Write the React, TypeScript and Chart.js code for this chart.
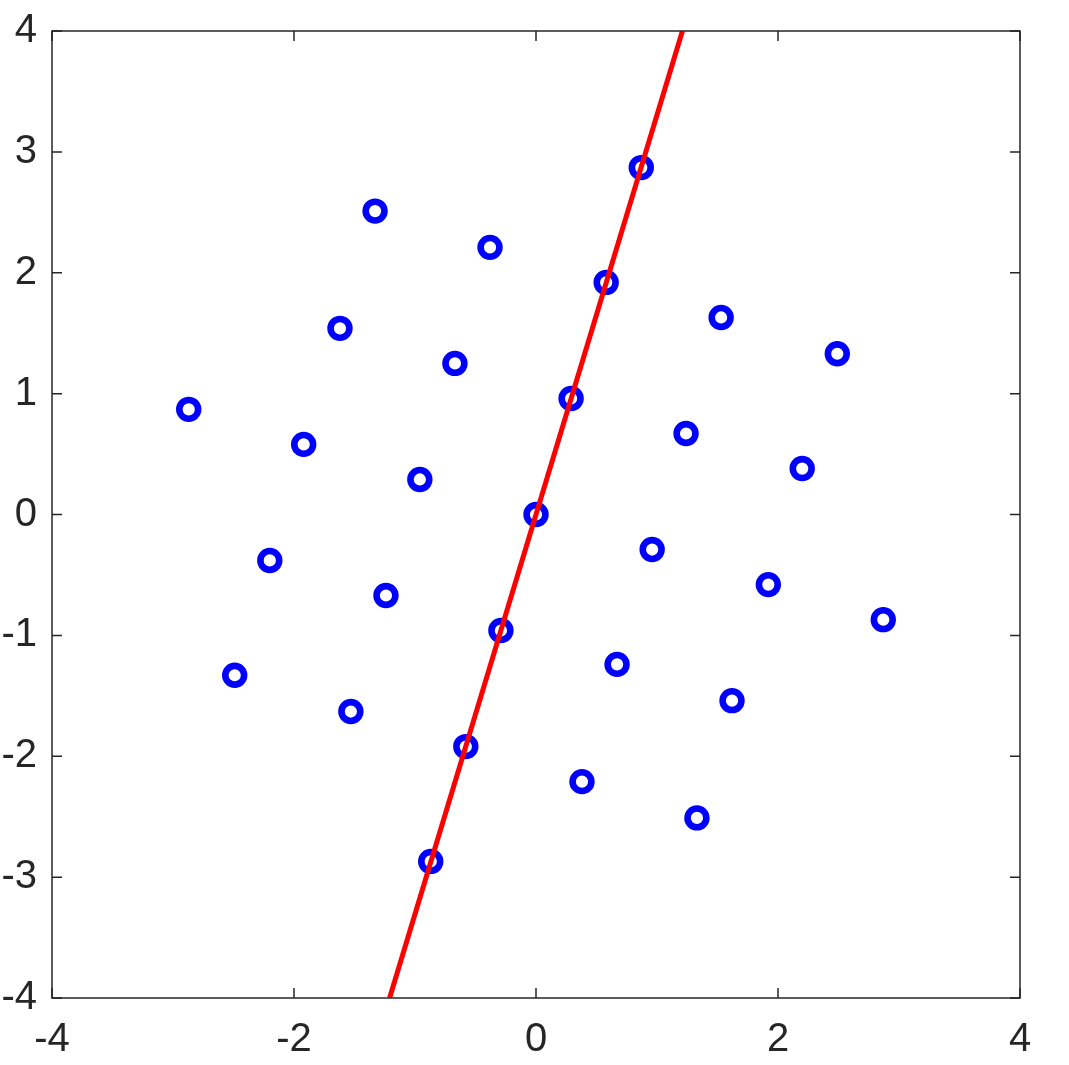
import { useEffect, useRef } from "react";
import { Chart, registerables } from "chart.js";

Chart.register(...registerables);

const xTickValues = [-4, -2, 0, 2, 4];
const yTickValues = [-4, -3, -2, -1, 0, 1, 2, 3, 4];

const pointX = [
  -2.87, -1.33, -0.38, 0.87, -1.62, -0.67, 0.58, 1.53, 2.49, -1.92, -0.96, 0.29, 1.24, 2.2, -2.2,
  -1.24, 0, 0.96, 1.92, 2.87, -2.49, -1.53, -0.29, 0.67, 1.62, -0.58, 0.38, 1.33, -0.87,
];
const pointY = [
  0.87, 2.51, 2.21, 2.87, 1.54, 1.25, 1.92, 1.63, 1.33, 0.58, 0.29, 0.96, 0.67, 0.38, -0.38,
  -0.67, 0, -0.29, -0.58, -0.87, -1.33, -1.63, -0.96, -1.24, -1.54, -1.92, -2.21, -2.51, -2.87,
];

const lineX = [-1.21, 1.21];
const lineY = [-4, 4];

const AXIS_COLOR = "#262626";
const FONT = { family: "'Liberation Sans', Arial, Helvetica, sans-serif", size: 40 };

const boxPlugin = {
  id: "matlabBox",
  afterDraw(chart: any) {
    const { ctx, chartArea } = chart;
    const { left, right, top, bottom } = chartArea;
    const xs = chart.scales.x;
    const ys = chart.scales.y;
    ctx.save();
    ctx.strokeStyle = AXIS_COLOR;
    ctx.lineWidth = 1.5;
    ctx.strokeRect(left, top, right - left, bottom - top);
    const tl = 10;
    ctx.beginPath();
    for (const v of xTickValues) {
      const px = xs.getPixelForValue(v);
      ctx.moveTo(px, bottom);
      ctx.lineTo(px, bottom - tl);
      ctx.moveTo(px, top);
      ctx.lineTo(px, top + tl);
    }
    for (const v of yTickValues) {
      const py = ys.getPixelForValue(v);
      ctx.moveTo(left, py);
      ctx.lineTo(left + tl, py);
      ctx.moveTo(right, py);
      ctx.lineTo(right - tl, py);
    }
    ctx.stroke();
    ctx.restore();
  },
};

export default function App() {
  const canvasRef = useRef<HTMLCanvasElement | null>(null);

  useEffect(() => {
    const canvas = canvasRef.current;
    if (!canvas) return;
    const chart = new Chart(canvas, {
      type: "scatter",
      data: {
        datasets: [
          {
            label: "line",
            data: lineX.map((x, i) => ({ x, y: lineY[i] })),
            showLine: true,
            borderColor: "#ff0000",
            borderWidth: 5,
            pointRadius: 0,
            pointHoverRadius: 0,
            fill: false,
          },
          {
            label: "points",
            data: pointX.map((x, i) => ({ x, y: pointY[i] })),
            showLine: false,
            pointRadius: 9.4,
            pointBorderWidth: 6.6,
            pointBorderColor: "#0000ff",
            pointBackgroundColor: "#ffffff",
            borderColor: "#0000ff",
            backgroundColor: "#ffffff",
          },
        ],
      },
      options: {
        responsive: false,
        animation: false,
        events: [],
        layout: { padding: { top: 31, right: 49, left: 0, bottom: 0 } },
        plugins: {
          legend: { display: false },
          tooltip: { enabled: false },
        },
        scales: {
          x: {
            type: "linear",
            min: -4,
            max: 4,
            grid: { display: false, drawTicks: false },
            border: { display: false },
            afterBuildTicks: (scale: any) => {
              scale.ticks = xTickValues.map((v) => ({ value: v }));
            },
            afterFit: (scale: any) => {
              scale.height = 67;
              scale.paddingLeft = 0;
              scale.paddingRight = 0;
            },
            ticks: {
              color: AXIS_COLOR,
              font: FONT,
              padding: 18,
              maxRotation: 0,
              autoSkip: false,
            },
          },
          y: {
            type: "linear",
            min: -4,
            max: 4,
            grid: { display: false, drawTicks: false },
            border: { display: false },
            afterBuildTicks: (scale: any) => {
              scale.ticks = yTickValues.map((v) => ({ value: v }));
            },
            afterFit: (scale: any) => {
              scale.width = 52;
              scale.paddingTop = 0;
              scale.paddingBottom = 0;
            },
            ticks: {
              color: AXIS_COLOR,
              font: FONT,
              padding: 15,
              autoSkip: false,
            },
          },
        },
      },
      plugins: [boxPlugin],
    });
    return () => chart.destroy();
  }, []);

  return (
    <div style={{ position: "absolute", left: 0, top: 0, width: 1069, height: 1065, background: "#fff" }}>
      <canvas ref={canvasRef} width={1069} height={1065} style={{ display: "block" }} />
    </div>
  );
}
